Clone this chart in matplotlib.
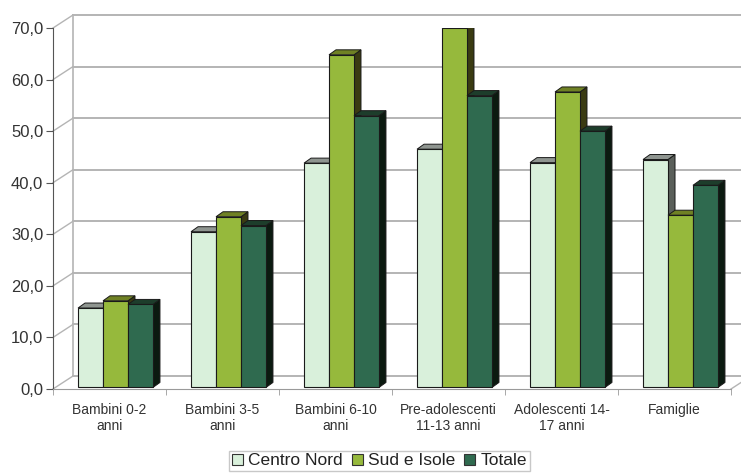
import matplotlib
matplotlib.use("Agg")
import matplotlib.pyplot as plt
from matplotlib.patches import Polygon, Patch

plt.rcParams['font.family'] = ['Liberation Sans', 'DejaVu Sans']

categories = ["Bambini 0-2\nanni", "Bambini 3-5\nanni", "Bambini 6-10\nanni",
              "Pre-adolescenti\n11-13 anni", "Adolescenti 14-\n17 anni", "Famiglie"]
series = ["Centro Nord", "Sud e Isole", "Totale"]
centro_nord = [15.4, 30.2, 43.5, 46.2, 43.6, 44.2]
sud_isole = [16.8, 33.1, 64.5, 69.7, 57.3, 33.4]
totale = [16.1, 31.4, 52.7, 56.6, 49.7, 39.2]

front_col = ["#d9f0db", "#96b93c", "#2f6a4f"]
top_col = ["#8f9590", "#6f8124", "#1d3d2b"]
side_col = ["#5a5f5a", "#3a3b12", "#0b1a10"]

fig = plt.figure(figsize=(7.41, 4.74), dpi=100)
W, H = 741, 474
ax = fig.add_axes([53 / W, (H - 389) / H, (731 - 53) / W, (389 - 28) / H])
ax.set_xlim(-0.5, 5.5)
ax.set_ylim(0, 70)

# depth offsets in data units (back wall and bar depth)
px_x = 6 / (731 - 53)
px_y = 70 / (389 - 28)
wx, wy = 20 * px_x, 13 * px_y
bx, by = 7 * px_x, 5 * px_y
mx, my = 6 * px_x, 0.3
grid_c = "#b4b4b4"

# back wall grid and side wall diagonals
for v in range(0, 80, 10):
    ax.plot([-0.5 + wx, 5.5 + wx], [v + wy, v + wy], color=grid_c, lw=1.4, clip_on=False, zorder=1)
    ax.plot([-0.5, -0.5 + wx], [v, v + wy], color=grid_c, lw=1.0, clip_on=False, zorder=1)
ax.plot([-0.5 + wx, -0.5 + wx], [wy, 70 + wy], color=grid_c, lw=1.2, clip_on=False, zorder=1)
ax.plot([5.5, 5.5 + wx], [0, wy], color=grid_c, lw=1.0, clip_on=False, zorder=1)

# bars with a little 3D depth
bw = 0.221
data = [centro_nord, sud_isole, totale]
for i in range(len(categories)):
    for j, vals in enumerate(data):
        x0 = i - 1.5 * bw + j * bw + mx
        v = vals[i] + my
        side = Polygon([(x0 + bw, my), (x0 + bw + bx, my + by), (x0 + bw + bx, v + by), (x0 + bw, v)],
                       closed=True, facecolor=side_col[j], edgecolor="#1a1a1a", lw=0.7, zorder=3 + j * 0.1 + i)
        top = Polygon([(x0, v), (x0 + bx, v + by), (x0 + bw + bx, v + by), (x0 + bw, v)],
                      closed=True, facecolor=top_col[j], edgecolor="#1a1a1a", lw=0.7, zorder=3 + j * 0.1 + i)
        ax.add_patch(side)
        ax.add_patch(top)
        ax.bar(x0, vals[i], width=bw, bottom=my, align="edge", color=front_col[j],
               edgecolor="#1a1a1a", lw=0.8, zorder=3.05 + j * 0.1 + i)

# axes
for s in ["top", "right"]:
    ax.spines[s].set_visible(False)
ax.spines["left"].set_color("#555555")
ax.spines["bottom"].set_color("#9a9a9a")
ax.set_yticks(range(0, 80, 10))
ax.set_yticklabels(["%d,0" % v for v in range(0, 80, 10)], fontsize=12, color="#333333")
ax.tick_params(axis="y", length=5, color="#555555", pad=2)
ax.set_xticks(range(len(categories)))
ax.set_xticklabels(categories, fontsize=10, color="#333333", linespacing=1.2)
ax.tick_params(axis="x", length=0, pad=10)
ax.set_xticks([k + 0.5 for k in range(-1, 6)], minor=True)
ax.tick_params(axis="x", which="minor", length=4, color="#9a9a9a")

handles = [Patch(facecolor=front_col[k], edgecolor="#333333", lw=0.8) for k in range(3)]
fig.legend(handles, series, loc="lower center", bbox_to_anchor=(0.512, -0.012), ncol=3,
           fontsize=12.5, frameon=True, fancybox=False, edgecolor="#bbbbbb",
           handlelength=0.65, handleheight=0.65, handletextpad=0.3, columnspacing=0.5,
           borderpad=0.15, labelcolor="#222222")

fig.savefig("out.png", dpi=100)
